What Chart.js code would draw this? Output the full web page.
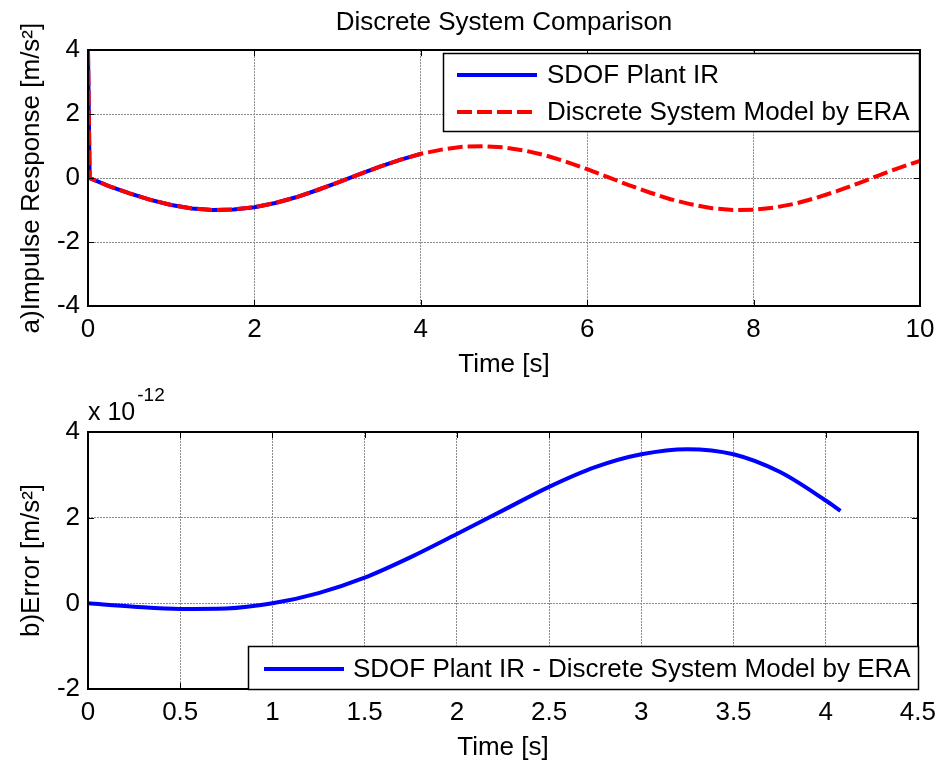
<!DOCTYPE html>
<html><head><meta charset="utf-8">
<script src="https://cdn.jsdelivr.net/npm/chart.js@4"></script>
<style>
html,body{margin:0;padding:0;background:#fff;}
#wrap{position:relative;width:944px;height:763px;background:#fff;}
canvas{position:absolute;left:0;}
</style></head><body>
<div id="wrap">
<canvas id="top" width="944" height="380" style="top:0"></canvas>
<canvas id="bot" width="944" height="383" style="top:380px"></canvas>
</div>
<script>
// ---- data ----
const irTime = [0, 0.02, 0.25, 0.5, 0.75, 1, 1.25, 1.5, 1.75, 2, 2.25, 2.5, 2.75, 3, 3.25, 3.5, 3.75, 4,
  4.25, 4.5, 4.75, 5, 5.25, 5.5, 5.75, 6, 6.25, 6.5, 6.75, 7, 7.25, 7.5, 7.75, 8, 8.25, 8.5, 8.75, 9, 9.25, 9.5, 9.75, 10];
const eraIR = [4, 0, -0.25, -0.48, -0.68, -0.84, -0.95, -1.0, -0.98, -0.91, -0.78, -0.6, -0.38, -0.14, 0.11, 0.35, 0.57, 0.76,
  0.89, 0.98, 1.0, 0.96, 0.86, 0.71, 0.51, 0.28, 0.03, -0.22, -0.45, -0.66, -0.82, -0.94, -1.0, -0.99, -0.92, -0.8, -0.62, -0.41, -0.17, 0.08, 0.32, 0.54];
const plantTime = [0, 0.02, 0.25, 0.5, 0.75, 1, 1.25, 1.5, 1.75, 2, 2.25, 2.5, 2.75, 3, 3.25, 3.5, 3.75, 4];
const plantIR = [4, 0, -0.25, -0.48, -0.68, -0.84, -0.95, -1.0, -0.98, -0.91, -0.78, -0.6, -0.38, -0.14, 0.11, 0.35, 0.57, 0.76];
const errTime = [0, 0.25, 0.5, 0.75, 1, 1.25, 1.5, 1.75, 2, 2.25, 2.5, 2.75, 3, 3.25, 3.5, 3.75, 4, 4.08];
const errValuesE12 = [0, -0.08, -0.13, -0.12, 0, 0.24, 0.6, 1.08, 1.62, 2.17, 2.72, 3.18, 3.48, 3.6, 3.48, 3.07, 2.4, 2.16];
const topXTicks = [0, 2, 4, 6, 8, 10];
const topYTicks = [-4, -2, 0, 2, 4];
const botXTicks = [0, 0.5, 1, 1.5, 2, 2.5, 3, 3.5, 4, 4.5];
const botYTicks = [-2, 0, 2, 4];
const labels = {
  title: 'Discrete System Comparison',
  xTitle: 'Time [s]',
  yTop: 'a)Impulse Response [m/s\u00B2]',
  yBot: 'b)Error [m/s\u00B2]',
  plant: 'SDOF Plant IR',
  era: 'Discrete System Model by ERA',
  err: 'SDOF Plant IR - Discrete System Model by ERA'
};

const FONT = "'Liberation Sans', Arial, sans-serif";
const FS = 26;
Chart.defaults.font.family = FONT;
Chart.defaults.color = '#000';

const pts = (xs, ys) => xs.map((x, i) => ({x, y: ys[i]}));

const framePlugin = {
  id: 'frame',
  afterDatasetsDraw(chart) {
    const {ctx, chartArea: a, scales} = chart;
    const TL = 6;
    ctx.save();
    ctx.strokeStyle = '#000';
    ctx.lineWidth = 1;
    ctx.beginPath();
    scales.x.ticks.forEach(t => {
      const p = Math.round(scales.x.getPixelForValue(t.value)) + 0.5;
      ctx.moveTo(p, a.bottom); ctx.lineTo(p, a.bottom - TL);
      ctx.moveTo(p, a.top); ctx.lineTo(p, a.top + TL);
    });
    scales.y.ticks.forEach(t => {
      const p = Math.round(scales.y.getPixelForValue(t.value)) + 0.5;
      ctx.moveTo(a.left, p); ctx.lineTo(a.left + TL, p);
      ctx.moveTo(a.right, p); ctx.lineTo(a.right - TL, p);
    });
    ctx.stroke();
    ctx.lineWidth = 2;
    ctx.strokeRect(Math.round(a.left), Math.round(a.top), Math.round(a.right - a.left), Math.round(a.bottom - a.top));
    ctx.restore();
  },
  afterDraw(chart) {
    const o = chart.options.plugins.boxLegend;
    if (!o) return;
    const {ctx} = chart;
    ctx.save();
    ctx.fillStyle = '#fff';
    ctx.fillRect(o.x, o.y, o.w, o.h);
    ctx.strokeStyle = '#000';
    ctx.lineWidth = 1.5;
    ctx.strokeRect(o.x + 0.5, o.y + 0.5, o.w, o.h);
    const items = chart.data.datasets.filter(d => d.label);
    items.forEach((d, i) => {
      const y = o.rowY[i];
      ctx.strokeStyle = d.borderColor;
      ctx.lineWidth = d.borderWidth;
      ctx.setLineDash(d.borderDash || []);
      ctx.beginPath();
      ctx.moveTo(o.lineX0, y); ctx.lineTo(o.lineX1, y);
      ctx.stroke();
      ctx.setLineDash([]);
      ctx.fillStyle = '#000';
      ctx.font = FS + 'px ' + FONT;
      ctx.textBaseline = 'middle';
      ctx.textAlign = 'left';
      ctx.fillText(d.label, o.textX, y + 1);
    });
    if (o.exp) {
      ctx.fillStyle = '#000';
      ctx.textBaseline = 'middle';
      ctx.textAlign = 'left';
      ctx.font = '25px ' + FONT;
      ctx.fillText(o.exp.base, o.exp.x, o.exp.y);
      const w = ctx.measureText(o.exp.base).width;
      ctx.font = '19px ' + FONT;
      ctx.fillText(o.exp.power, o.exp.x + w + 2, o.exp.y - 17);
    }
    ctx.restore();
  }
};

function axes(xmin, xmax, xTicks, ymin, ymax, yTicks, yTitle, xHeight) {
  const gridOpt = {color: '#8a8a8a', lineWidth: 1, drawTicks: false};
  const border = {display: false, dash: [2, 1]};
  return {
    x: {
      type: 'linear', min: xmin, max: xmax,
      afterBuildTicks: s => { s.ticks = xTicks.map(v => ({value: v})); },
      ticks: {padding: 8, font: {size: FS}, color: '#000', maxRotation: 0, autoSkip: false, callback: v => String(v)},
      grid: gridOpt, border,
      title: {display: true, text: labels.xTitle, font: {size: FS}, color: '#000', padding: {top: 0, bottom: 0}},
      afterFit: s => { s.height = xHeight; }
    },
    y: {
      type: 'linear', min: ymin, max: ymax,
      afterBuildTicks: s => { s.ticks = yTicks.map(v => ({value: v})); },
      ticks: {padding: 8, font: {size: FS}, color: '#000', callback: v => String(v)},
      grid: gridOpt, border,
      title: {display: true, text: yTitle, font: {size: FS}, color: '#000', padding: {top: 16, bottom: 0}},
      afterFit: s => { s.width = 88; }
    }
  };
}

new Chart(document.getElementById('top'), {
  type: 'line',
  data: {
    datasets: [
      {label: labels.plant, data: pts(plantTime, plantIR), borderColor: '#0000ff', borderWidth: 4, pointRadius: 0, tension: 0, fill: false, order: 2},
      {label: labels.era, data: pts(irTime, eraIR), borderColor: '#ff0000', borderWidth: 4, borderDash: [15, 5], pointRadius: 0, tension: 0, fill: false, order: 1}
    ]
  },
  options: {
    responsive: false, animation: false,
    layout: {padding: {left: 0, right: 24, top: 0, bottom: 0}},
    plugins: {
      legend: {display: false}, tooltip: {enabled: false},
      title: {display: true, fullSize: false, text: labels.title, font: {size: FS, weight: 'normal'}, color: '#000', padding: {top: 7, bottom: 12}},
      boxLegend: {x: 443, y: 53, w: 476, h: 78, rowY: [75, 112], lineX0: 457, lineX1: 537, textX: 547}
    },
    scales: axes(0, 10, topXTicks, -4, 4, topYTicks, labels.yTop, 74)
  },
  plugins: [framePlugin]
});

new Chart(document.getElementById('bot'), {
  type: 'line',
  data: {
    datasets: [
      {label: labels.err, data: pts(errTime, errValuesE12), borderColor: '#0000ff', borderWidth: 4, pointRadius: 0, cubicInterpolationMode: 'monotone', fill: false}
    ]
  },
  options: {
    responsive: false, animation: false,
    layout: {padding: {left: 0, right: 24, top: 52, bottom: 0}},
    plugins: {
      legend: {display: false}, tooltip: {enabled: false},
      boxLegend: {x: 248, y: 266, w: 670, h: 43, rowY: [289], lineX0: 264, lineX1: 344, textX: 353,
        exp: {base: 'x 10', power: '-12', x: 88, y: 33}}
    },
    scales: axes(0, 4.5, botXTicks, -2, 4, botYTicks, labels.yBot, 74)
  },
  plugins: [framePlugin]
});
</script>
</body></html>
